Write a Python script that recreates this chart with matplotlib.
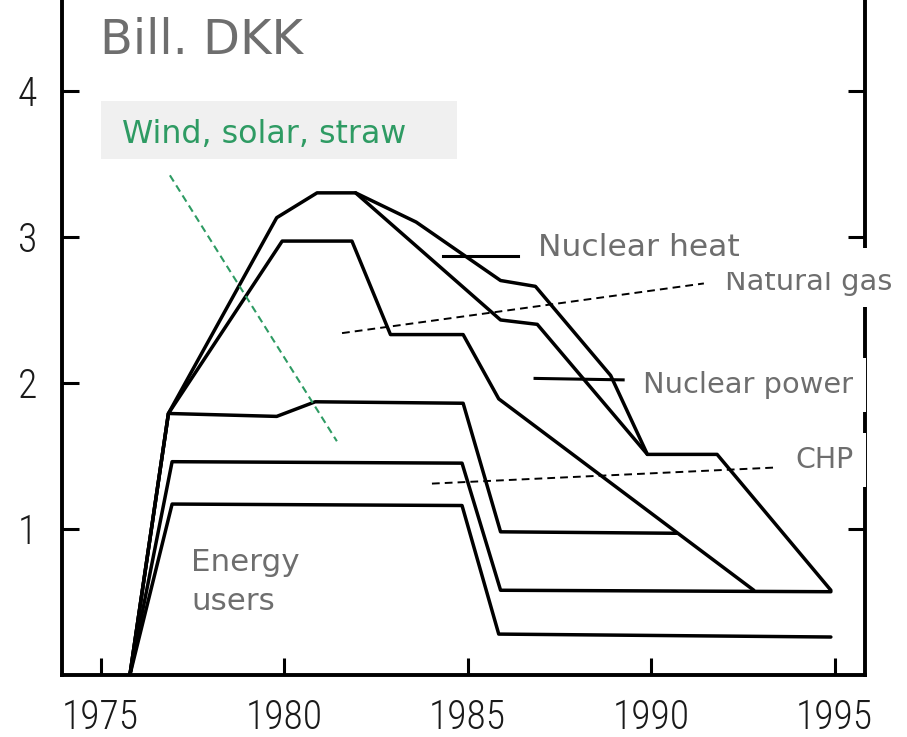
# Scanned cost chart: Bill. DKK by energy supply, 1976-1995

import matplotlib
matplotlib.use("Agg")
import matplotlib.pyplot as plt
from matplotlib import font_manager
from matplotlib.font_manager import FontProperties
from matplotlib.patches import Rectangle

# boundary lines (year, bill. DKK)
top_years = [1975.8, 1976.85, 1979.8, 1980.9, 1981.95, 1983.6, 1985.9, 1986.85, 1988.9, 1989.9, 1991.8, 1994.9]
top_vals = [0, 1.79, 3.13, 3.30, 3.30, 3.10, 2.70, 2.66, 2.05, 1.51, 1.51, 0.58]

heat_years = [1981.95, 1985.9, 1986.9, 1989.9]
heat_vals = [3.30, 2.43, 2.40, 1.51]

gas_years = [1975.8, 1976.85, 1979.95, 1981.85, 1982.9, 1984.88, 1985.85, 1992.8]
gas_vals = [0, 1.79, 2.97, 2.97, 2.33, 2.33, 1.89, 0.58]

renew_years = [1975.8, 1976.85, 1979.8, 1980.85, 1984.88, 1985.9, 1990.7]
renew_vals = [0, 1.79, 1.77, 1.87, 1.86, 0.98, 0.97]

chp_years = [1975.8, 1976.95, 1984.85, 1985.9, 1994.9]
chp_vals = [0, 1.46, 1.45, 0.58, 0.57]

users_years = [1975.8, 1976.95, 1984.85, 1985.85, 1994.9]
users_vals = [0, 1.17, 1.16, 0.28, 0.26]

x_ticks = [1975, 1980, 1985, 1990, 1995]
y_ticks = [1, 2, 3, 4]

GREY = "#6e6e6e"
GREEN = "#2e9b63"


def narrow_font():
    # look for a narrow / condensed face for the typewriter-like tick digits
    files = [f for f in font_manager.fontManager.ttflist]
    for key in ["RobotoCondensed-Light", "RobotoCondensed-Regular", "LiberationSansNarrow-Regular",
                "OpenSansCondensed-Light", "DejaVuSansCondensed.ttf"]:
        for f in files:
            if key.lower() in f.fname.lower():
                return f.fname
    return None


def main():
    fig = plt.figure(figsize=(9.07, 7.37), dpi=100)
    ax = fig.add_axes([62 / 907, 62 / 737, 803 / 907, 675 / 737])

    for xs, ys in [(top_years, top_vals), (heat_years, heat_vals), (gas_years, gas_vals),
                   (renew_years, renew_vals), (chp_years, chp_vals), (users_years, users_vals)]:
        ax.plot(xs, ys, color="black", lw=2.5, solid_joinstyle="round", solid_capstyle="round")

    ax.set_xlim(1973.95, 1995.83)
    ax.set_ylim(0, 4.62)

    ax.spines["top"].set_visible(False)
    for side in ["left", "right", "bottom"]:
        ax.spines[side].set_linewidth(2.8)

    ax.set_xticks(x_ticks)
    ax.set_yticks(y_ticks)
    ax.tick_params(axis="both", direction="in", length=12, width=2.2, color="black")
    ax.tick_params(axis="y", right=True, pad=18)
    ax.tick_params(axis="x", pad=17)
    fname = narrow_font()
    for lab in ax.get_xticklabels() + ax.get_yticklabels():
        if fname:
            lab.set_fontproperties(FontProperties(fname=fname, size=28.5))
        else:
            lab.set_fontsize(24)
        lab.set_color("#1a1a1a")

    # title and labels
    ax.text(1974.99, 4.247, "Bill. DKK", fontsize=34.5, color=GREY, va="baseline")

    ax.add_patch(Rectangle((1975.0, 3.534), 9.72, 0.396, facecolor="#f0f0f0",
                           edgecolor="none", zorder=1))
    ax.text(1975.59, 3.644, "Wind, solar, straw", fontsize=22.8, color=GREEN, va="baseline")
    ax.plot([1976.89, 1981.44], [3.42, 1.60], color=GREEN, lw=1.5, ls=(0, (3.5, 2.2)))

    ax.text(1986.93, 2.87, "Nuclear heat", fontsize=22.6, color=GREY, va="baseline")
    ax.plot([1984.33, 1986.38], [2.87, 2.87], color="black", lw=2.2)

    # natural gas label, top slightly cut off as in the scan
    ax.add_patch(Rectangle((1991.6, 2.52), 6, 0.24, facecolor="white", edgecolor="none",
                           zorder=4, clip_on=False))
    ax.text(1992.02, 2.637, "Natural gas", fontsize=20.8, color=GREY, va="baseline", zorder=5)
    ax.add_patch(Rectangle((1991.6, 2.76), 6, 0.095, facecolor="white", edgecolor="none",
                           zorder=6, clip_on=False))
    ax.add_patch(Rectangle((1994.2, 2.85), 4, 0.07, facecolor="white", edgecolor="none",
                           zorder=6, clip_on=False))
    ax.plot([1981.58, 1991.44], [2.34, 2.68], color="black", lw=1.4, ls=(0, (4, 2.6)))

    ax.text(1989.78, 1.93, "Nuclear power", fontsize=20.8, color=GREY, va="baseline", zorder=5,
            bbox=dict(facecolor="white", edgecolor="none", boxstyle="square,pad=0.45"))
    ax.plot([1986.84, 1989.24], [2.03, 2.02], color="black", lw=2.2)

    ax.text(1993.92, 1.418, "CHP", fontsize=20.4, color=GREY, va="baseline", zorder=5,
            bbox=dict(facecolor="white", edgecolor="none", boxstyle="square,pad=0.45"))
    ax.plot([1984.03, 1993.38], [1.31, 1.42], color="black", lw=1.4, ls=(0, (4, 2.6)))

    ax.text(1977.47, 0.712, "Energy", fontsize=22.3, color=GREY, va="baseline")
    ax.text(1977.47, 0.445, "users", fontsize=22.3, color=GREY, va="baseline")

    fig.savefig("out.png", dpi=100)


if __name__ == "__main__":
    main()
